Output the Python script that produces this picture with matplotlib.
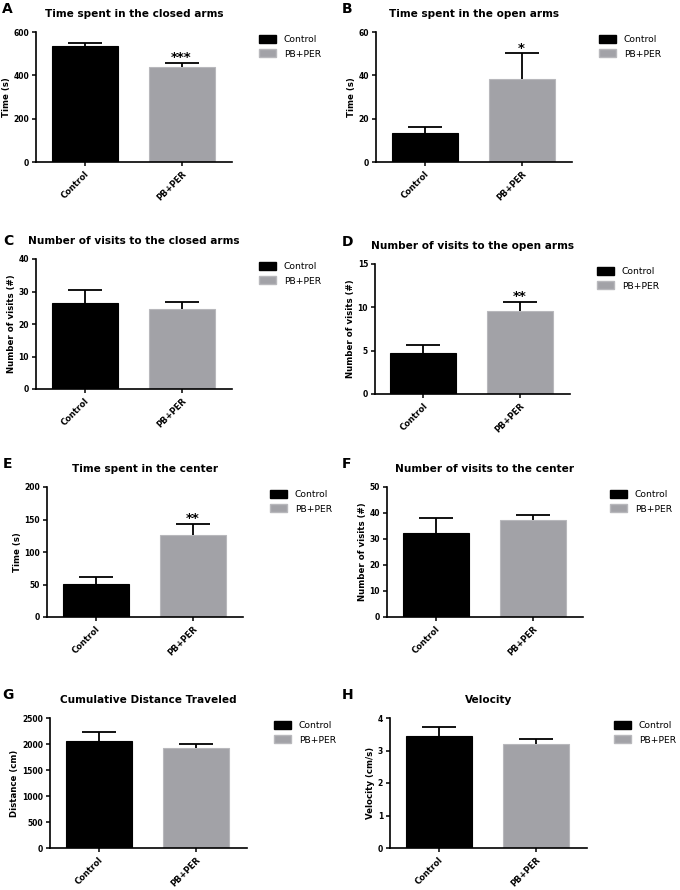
import numpy as np
import matplotlib
matplotlib.use("Agg")
import matplotlib.pyplot as plt
from matplotlib.patches import Patch

# data (mean, upper SEM)
groups = ["Control", "PB+PER"]
letters = ["A", "B", "C", "D", "E", "F", "G", "H"]
titles = [
    "Time spent in the closed arms",
    "Time spent in the open arms",
    "Number of visits to the closed arms",
    "Number of visits to the open arms",
    "Time spent in the center",
    "Number of visits to the center",
    "Cumulative Distance Traveled",
    "Velocity",
]
ylabels = ["Time (s)", "Time (s)", "Number of visits (#)", "Number of visits (#)",
           "Time (s)", "Number of visits (#)", "Distance (cm)", "Velocity (cm/s)"]
control_mean = [535, 13.2, 26.6, 4.75, 50.8, 32.4, 2065, 3.45]
control_err = [13, 3.1, 4.0, 0.9, 11.1, 5.6, 160, 0.26]
pbper_mean = [437, 38.4, 24.5, 9.55, 125.9, 37.4, 1931, 3.21]
pbper_err = [21, 11.8, 2.3, 1.1, 17.5, 1.7, 77, 0.14]
stars = ["***", "*", "", "**", "**", "", "", ""]
yticks = [
    [0, 200, 400, 600],
    [0, 20, 40, 60],
    [0, 10, 20, 30, 40],
    [0, 5, 10, 15],
    [0, 50, 100, 150, 200],
    [0, 10, 20, 30, 40, 50],
    [0, 500, 1000, 1500, 2000, 2500],
    [0, 1, 2, 3, 4],
]

# axes boxes in pixels: left, top, right, bottom
boxes = [
    (36, 32, 232, 162), (376, 32, 572, 162),
    (36, 259, 232, 389), (375, 264, 570, 394),
    (47, 487, 243, 617), (387, 487, 583, 617),
    (50, 718, 247, 848), (390, 718, 587, 848),
]
letter_pos = [(2, 13), (342, 13), (3, 245), (342, 246),
              (3, 468), (342, 468), (2, 699), (342, 699)]

W, H = 680, 890
colors = ["#000000", "#a2a2a7"]
edges = ["#000000", "#b8b8bc"]

fig = plt.figure(figsize=(W / 100, H / 100), dpi=100)

for i in range(8):
    l, t, r, b = boxes[i]
    ax = fig.add_axes([l / W, 1 - b / H, (r - l) / W, (b - t) / H])
    x = np.arange(len(groups))
    means = np.array([control_mean[i], pbper_mean[i]])
    errs = np.array([control_err[i], pbper_err[i]])
    ax.bar(x, means, width=0.68, color=colors, edgecolor=edges, linewidth=0.8, zorder=2)
    # upper error only: stem plus a cap at the top end
    ax.errorbar(x, means, yerr=[np.zeros(2), errs], fmt="none", ecolor="black",
                elinewidth=1.3, capsize=0, zorder=3)
    ax.plot(x, means + errs, linestyle="none", marker="_", markersize=24,
            markeredgewidth=1.3, color="black", zorder=3)
    if stars[i]:
        ax.annotate(stars[i], (1, pbper_mean[i] + pbper_err[i]), xytext=(0, -1),
                    textcoords="offset points", ha="center", va="bottom",
                    fontsize=9.5, fontweight="bold")
    ax.set_xlim(-0.5, 1.52)
    ax.set_ylim(yticks[i][0], yticks[i][-1])
    ax.set_yticks(yticks[i])
    ax.set_xticks(x)
    ax.set_xticklabels(groups, rotation=45, ha="right", rotation_mode="anchor",
                       fontsize=6, fontweight="bold")
    for lab in ax.get_yticklabels():
        lab.set_fontsize(5.5)
        lab.set_fontweight("bold")
    ax.tick_params(axis="both", length=3, width=1.1, pad=2)
    ax.spines["top"].set_visible(False)
    ax.spines["right"].set_visible(False)
    ax.spines["left"].set_linewidth(1.2)
    ax.spines["bottom"].set_linewidth(1.2)
    ax.set_ylabel(ylabels[i], fontsize=6.2, fontweight="bold", labelpad=2)
    ax.set_title(titles[i], fontsize=7.6, fontweight="bold", pad=11)

    handles = [Patch(facecolor=colors[0], edgecolor=edges[0]),
               Patch(facecolor=colors[1], edgecolor=edges[1])]
    fig.legend(handles, groups, loc="upper left",
               bbox_to_anchor=((r + 27) / W, 1 - (t + 3) / H),
               frameon=False, fontsize=6.6, handlelength=1.9, handleheight=1.0,
               handletextpad=0.8, labelspacing=0.55, borderpad=0, borderaxespad=0)

    lx, ly = letter_pos[i]
    fig.text(lx / W, 1 - ly / H, letters[i], fontsize=10, fontweight="bold",
             ha="left", va="baseline")

fig.savefig("out.png", dpi=100)
